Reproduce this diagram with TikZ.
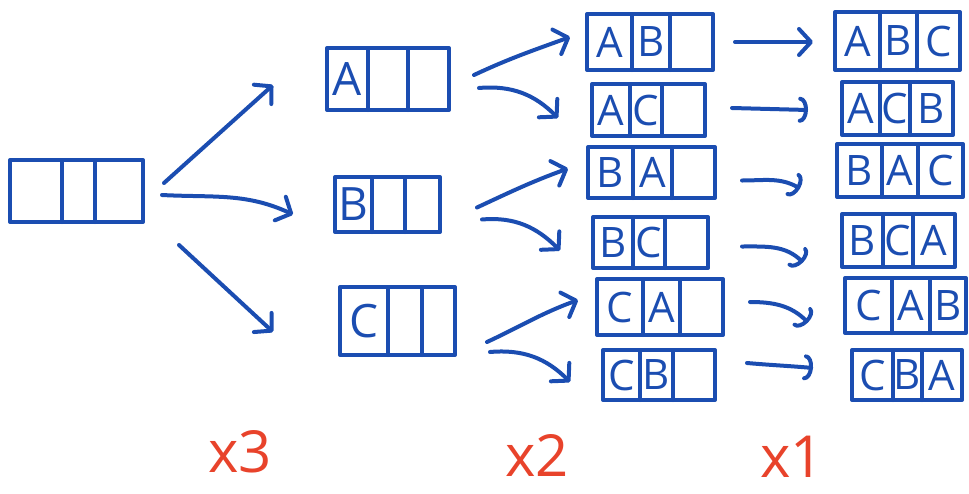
\documentclass[tikz,border=0pt]{standalone}
\usepackage{fontspec}
\setmainfont{Open Sans}
\usetikzlibrary{arrows.meta,fit,calc}
\definecolor{ink}{HTML}{1B4DB1}
\definecolor{redink}{HTML}{E8432B}
\tikzset{
  pen/.style={draw=ink, line width=2pt, line cap=round, line join=round},
  boxst/.style={pen, inner sep=0pt},
  letter/.style={text=ink, inner sep=0pt, font=\fontsize{21}{21}\selectfont},
  bigletter/.style={letter, font=\fontsize{23}{23}\selectfont},
  arr/.style={pen, -{Straight Barb[length=6pt,width=13pt,round]}},
  harr/.style={pen, -{Arc Barb[length=4pt,width=13pt,round]}},
  count/.style={text=redink, font=\fontsize{29}{29}\selectfont, inner sep=0pt},
}
% \pbox{name}{x1}{y1}{x2}{y2}{divider1}{divider2}
\newcommand\pbox[7]{%
  \node[boxst, fit={(#2,#3) (#4,#5)}] (#1) {};
  \draw[pen] (#6,#3) -- (#6,#5) (#7,#3) -- (#7,#5);
  \coordinate (#1-c1) at ({(#2+#6)/2},{(#3+#5)/2});
  \coordinate (#1-c2) at ({(#6+#7)/2},{(#3+#5)/2});
  \coordinate (#1-c3) at ({(#7+#4)/2},{(#3+#5)/2});
}
\begin{document}
\begin{tikzpicture}[x=0.5pt,y=-0.5pt]
\useasboundingbox (0,0) rectangle (969,493);

% level 0
\pbox{init}{10}{160}{143}{222}{62}{95}

% level 1
\pbox{A1}{327}{48}{449}{110}{368}{408}
\node[bigletter] (A1-l1) at (A1-c1) {A};
\pbox{B1}{335}{177}{440}{232}{372}{405}
\node[bigletter] (B1-l1) at (B1-c1) {B};
\pbox{C1}{340}{287}{455}{355}{388}{422}
\node[bigletter] (C1-l1) at (C1-c1) {C};

% level 2
\pbox{AB}{587}{14}{713}{70}{632}{670}
\node[letter] (AB-l1) at (AB-c1) {A};
\node[letter] (AB-l2) at (AB-c2) {B};
\pbox{AC}{592}{84}{705}{136}{630}{662}
\node[letter] (AC-l1) at (AC-c1) {A};
\node[letter] (AC-l2) at (AC-c2) {C};
\pbox{BA}{588}{147}{715}{198}{633}{672}
\node[letter] (BA-l1) at (BA-c1) {B};
\node[letter] (BA-l2) at (BA-c2) {A};
\pbox{BC}{593}{217}{708}{268}{633}{665}
\node[letter] (BC-l1) at (BC-c1) {B};
\node[letter] (BC-l2) at (BC-c2) {C};
\pbox{CA}{597}{279}{723}{335}{643}{680}
\node[letter] (CA-l1) at (CA-c1) {C};
\node[letter] (CA-l2) at (CA-c2) {A};
\pbox{CB}{603}{350}{715}{400}{640}{673}
\node[letter] (CB-l1) at (CB-c1) {C};
\node[letter] (CB-l2) at (CB-c2) {B};

% level 3
\pbox{ABC}{835}{12}{960}{70}{880}{917}
\node[letter] (ABC-l1) at (ABC-c1) {A};
\node[letter] (ABC-l2) at (ABC-c2) {B};
\node[letter] (ABC-l3) at (ABC-c3) {C};
\pbox{ACB}{842}{82}{953}{135}{880}{910}
\node[letter] (ACB-l1) at (ACB-c1) {A};
\node[letter] (ACB-l2) at (ACB-c2) {C};
\node[letter] (ACB-l3) at (ACB-c3) {B};
\pbox{BAC}{837}{144}{963}{197}{882}{918}
\node[letter] (BAC-l1) at (BAC-c1) {B};
\node[letter] (BAC-l2) at (BAC-c2) {A};
\node[letter] (BAC-l3) at (BAC-c3) {C};
\pbox{BCA}{842}{214}{955}{267}{883}{913}
\node[letter] (BCA-l1) at (BCA-c1) {B};
\node[letter] (BCA-l2) at (BCA-c2) {C};
\node[letter] (BCA-l3) at (BCA-c3) {A};
\pbox{CAB}{845}{278}{966}{333}{892}{930}
\node[letter] (CAB-l1) at (CAB-c1) {C};
\node[letter] (CAB-l2) at (CAB-c2) {A};
\node[letter] (CAB-l3) at (CAB-c3) {B};
\pbox{CBA}{852}{350}{962}{400}{893}{922}
\node[letter] (CBA-l1) at (CBA-c1) {C};
\node[letter] (CBA-l2) at (CBA-c2) {B};
\node[letter] (CBA-l3) at (CBA-c3) {A};

% arrows level 0 -> 1
\draw[arr] ([shift={(19,-8)}]init.east) -- ([shift={(-52,6)}]A1.west);
\draw[arr] ([shift={(17,4)}]init.east) to[out=-3,in=155] ([shift={(-40,10)}]B1.west);
\draw[arr] ([shift={(34,21)}]init.south east) -- ([shift={(-65,11)}]C1.west);

% arrows level 1 -> 2
\draw[arr] ([shift={(23,-4)}]A1.east) to[out=25,in=200] ([shift={(-15,-5)}]AB.west);
\draw[arr] ([shift={(28,9)}]A1.east) to[out=5,in=135] ([shift={(-32,8)}]AC.west);
\draw[arr] ([shift={(35,3)}]B1.east) to[out=25,in=200] ([shift={(-18,-4)}]BA.west);
\draw[arr] ([shift={(40,15)}]B1.east) to[out=5,in=135] ([shift={(-31,8)}]BC.west);
\draw[arr] ([shift={(30,21)}]C1.east) to[out=25,in=200] ([shift={(-17,-7)}]CA.west);
\draw[arr] ([shift={(33,31)}]C1.east) to[out=5,in=135] ([shift={(-31,7)}]CB.west);

% arrows level 2 -> 3
\draw[arr] ([shift={(20,0)}]AB.east) -- ([shift={(-20,1)}]ABC.west);
\draw[harr] ([shift={(25,-2)}]AC.east) -- ([shift={(-32,1.5)}]ACB.west);
\draw[harr] ([shift={(25,8)}]BA.east) to[out=0,in=150] ([shift={(-35,18)}]BAC.west);
\draw[harr] ([shift={(32,4)}]BC.east) to[out=0,in=135] ([shift={(-37,22)}]BCA.west);
\draw[harr] ([shift={(25,-5)}]CA.east) to[out=0,in=135] ([shift={(-35,17)}]CAB.west);
\draw[harr] ([shift={(30,-12)}]CB.east) to[out=-5,in=175] ([shift={(-37,-7)}]CBA.west);

% counts
\node[count] (n3) at (240,452) {x3};
\node[count] (n2) at (537,455) {x2};
\node[count] (n1) at (792,457) {x1};
\end{tikzpicture}
\end{document}
